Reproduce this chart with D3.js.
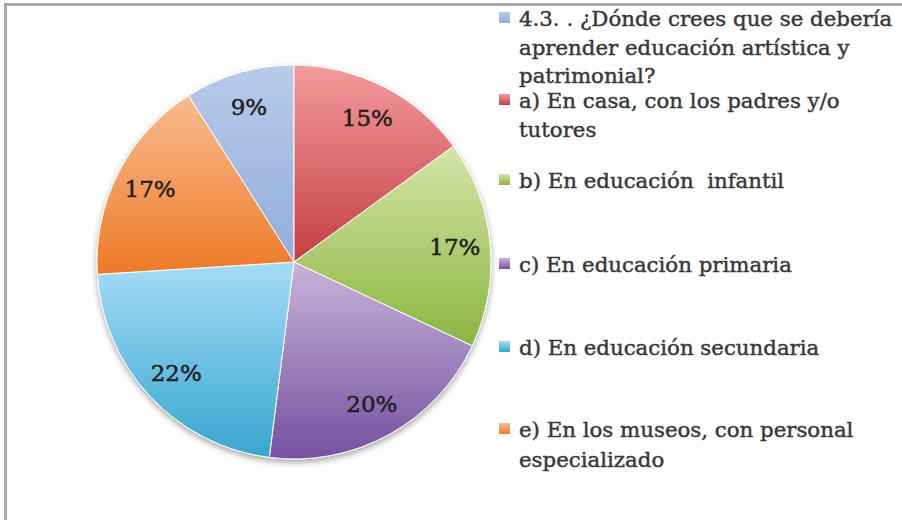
<!DOCTYPE html>
<html>
<head>
<meta charset="utf-8">
<script src="https://cdn.jsdelivr.net/npm/d3@7"></script>
<style>
  html, body { margin: 0; padding: 0; background: #fff; }
  svg { display: block; }
</style>
</head>
<body>
<svg id="chart" width="902" height="520"></svg>
<script>
// Survey answers: where artistic and heritage education should be learned
const categories = [
  "4.3. . ¿Dónde crees que se debería aprender educación artística y patrimonial?",
  "a) En casa, con los padres y/o tutores",
  "b) En educación  infantil",
  "c) En educación primaria",
  "d) En educación secundaria",
  "e) En los museos, con personal especializado"
];
const values = [9, 15, 17, 20, 22, 17];
// Legend entries, already broken into display lines
const legendLines = [
  ["4.3. . ¿Dónde crees que se debería", "aprender educación artística y", "patrimonial?"],
  ["a) En casa, con los padres y/o", "tutores"],
  ["b) En educación  infantil"],
  ["c) En educación primaria"],
  ["d) En educación secundaria"],
  ["e) En los museos, con personal", "especializado"]
];
// Light (top) and dark (bottom) shade of each slice
const shadeTop    = ["#b8cbea", "#f39b9d", "#d4e5a7", "#c8b4da", "#a5dcf8", "#f8bb8f"];
const shadeBottom = ["#93acdb", "#c43f44", "#8ab640", "#7550a0", "#38a6cf", "#ee7a27"];

const svg = d3.select("#chart");
const defs = svg.append("defs");

const W = 902, H = 520;
const cx = 294, cy = 262, R = 197;
const serif = "'DejaVu Serif', 'Liberation Serif', serif";

// Chart area frame (only top and left edges are visible)
svg.append("path")
  .attr("d", `M5.5,${H} V4.5 H${W}`)
  .attr("fill", "none")
  .attr("stroke", "#a9a9a9")
  .attr("stroke-width", 3)
  .style("filter", "blur(0.6px)");

// Vertical gradients, one per slice / legend key
categories.forEach((c, i) => {
  const g = defs.append("linearGradient")
    .attr("id", "grad" + i)
    .attr("x1", 0).attr("y1", 0).attr("x2", 0).attr("y2", 1);
  g.append("stop").attr("offset", "0%").attr("stop-color", shadeTop[i]);
  g.append("stop").attr("offset", "100%").attr("stop-color", shadeBottom[i]);
});

// Soft shadow under the pie
const shadow = defs.append("filter").attr("id", "pieShadow")
  .attr("x", "-10%").attr("y", "-10%").attr("width", "120%").attr("height", "125%");
shadow.append("feDropShadow")
  .attr("dx", 0).attr("dy", 3).attr("stdDeviation", 3)
  .attr("flood-color", "#000").attr("flood-opacity", 0.35);

const total = d3.sum(values);
// The first entry sits just left of 12 o'clock so the rest run clockwise from the top
const start = -values[0] / total * 2 * Math.PI;
const pie = d3.pie().sort(null).value(d => d)
  .startAngle(start).endAngle(start + 2 * Math.PI);
const arcs = pie(values);

const arc = d3.arc().innerRadius(0).outerRadius(R);
const labelArc = d3.arc().innerRadius(R * 0.82).outerRadius(R * 0.82);

const pieG = svg.append("g").attr("transform", `translate(${cx},${cy})`);
const slicesG = pieG.append("g").attr("filter", "url(#pieShadow)");
slicesG.selectAll("path")
  .data(arcs)
  .join("path")
  .attr("d", arc)
  .attr("fill", (d, i) => `url(#grad${i})`)
  .attr("stroke", "#fff")
  .attr("stroke-width", 1);

const fmt = d3.format(".0%");
pieG.selectAll("text.pct")
  .data(arcs)
  .join("text")
  .attr("class", "pct")
  .attr("transform", d => `translate(${labelArc.centroid(d)})`)
  .attr("text-anchor", "middle")
  .attr("dy", "0.36em")
  .attr("font-family", serif)
  .attr("font-size", 23)
  .attr("fill", "#1e1e1e")
  .attr("stroke", "#1e1e1e")
  .attr("stroke-width", 0.5)
  .text(d => fmt(d.value / total));

// Legend
const legendBaselines = [[26, 55, 83], [108, 137], [188], [272], [355], [437, 467]];
const legend = svg.append("g");
legendLines.forEach((lines, i) => {
  const base = legendBaselines[i];
  legend.append("rect")
    .attr("x", 499).attr("y", base[0] - 14)
    .attr("width", 11).attr("height", 11)
    .attr("fill", `url(#grad${i})`);
  lines.forEach((ln, j) => {
    legend.append("text")
      .attr("x", 519).attr("y", base[j])
      .attr("font-family", serif)
      .attr("font-size", 21.3)
      .attr("fill", "#383838")
      .attr("stroke", "#383838")
      .attr("stroke-width", 0.45)
      .style("white-space", "pre")
      .text(ln);
  });
});
</script>
</body>
</html>
